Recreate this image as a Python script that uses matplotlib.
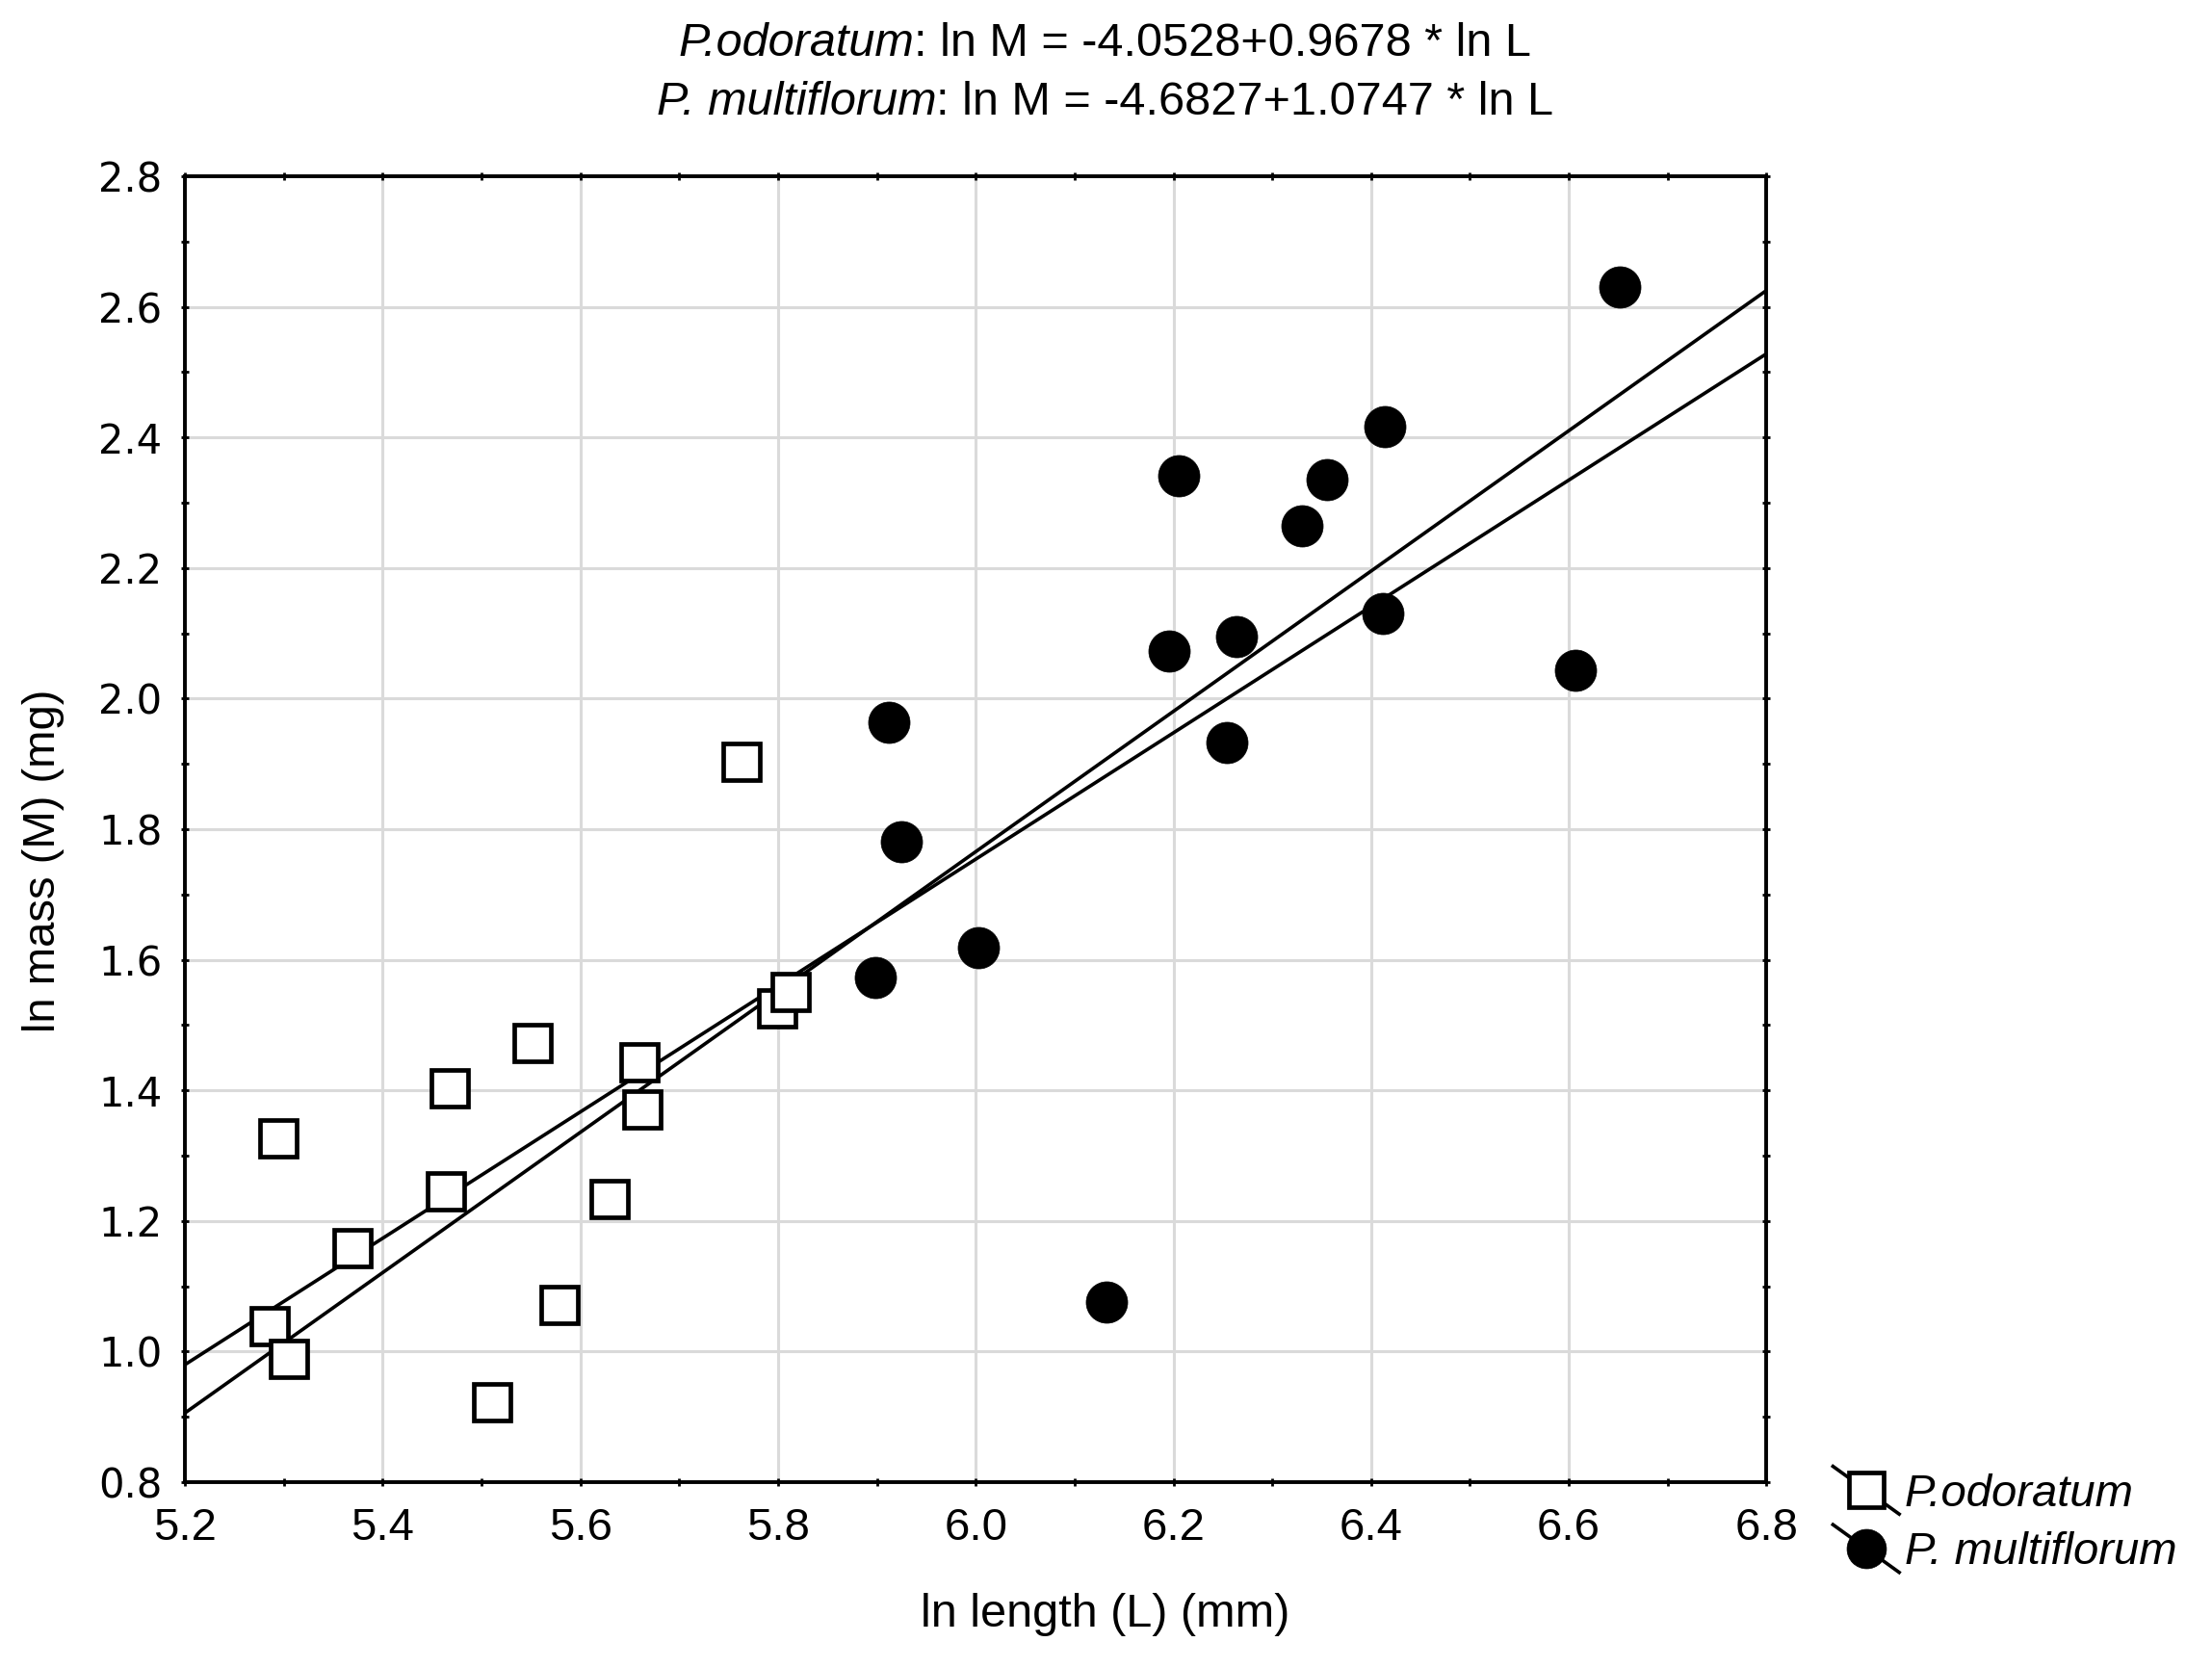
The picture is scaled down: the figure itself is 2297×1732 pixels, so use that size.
import numpy as np
import matplotlib
matplotlib.use("Agg")
import matplotlib.pyplot as plt
from matplotlib.lines import Line2D
from matplotlib.legend_handler import HandlerBase

# --- data ---
odor_x = [5.763, 5.552, 5.468, 5.294, 5.660, 5.663, 5.799, 5.813,
          5.464, 5.630, 5.369, 5.579, 5.286, 5.305, 5.511]
odor_y = [1.903, 1.473, 1.403, 1.327, 1.443, 1.370, 1.526, 1.550,
          1.246, 1.233, 1.159, 1.071, 1.039, 0.988, 0.922]

multi_x = [6.652, 6.414, 6.205, 6.355, 6.330, 6.412, 6.264, 6.196,
           6.607, 6.254, 5.912, 5.925, 6.003, 5.898, 6.132]
multi_y = [2.630, 2.417, 2.342, 2.335, 2.264, 2.131, 2.095, 2.073,
           2.043, 1.933, 1.963, 1.781, 1.618, 1.573, 1.076]

# regression coefficients (intercept, slope)
odor_fit = (-4.0528, 0.9678)
multi_fit = (-4.6827, 1.0747)

species = ["P.odoratum", "P. multiflorum"]
equations = [": ln M = -4.0528+0.9678 * ln L", ": ln M = -4.6827+1.0747 * ln L"]

x_range = (5.2, 6.8)
y_range = (0.8, 2.8)
x_ticks = np.arange(5.2, 6.81, 0.2)
y_ticks = np.arange(0.8, 2.81, 0.2)

SANS = ['Liberation Sans', 'DejaVu Sans']

fig = plt.figure(figsize=(22.97, 17.32), dpi=100)
ax = fig.add_axes([0.0836, 0.1115, 0.7150, 0.7828])

ax.grid(True, color='#dadada', lw=2.2, zorder=0)
ax.set_axisbelow(True)

xx = np.array(x_range)
ax.plot(xx, odor_fit[0] + odor_fit[1] * xx, color='black', lw=2.6, zorder=2)
ax.plot(xx, multi_fit[0] + multi_fit[1] * xx, color='black', lw=2.6, zorder=2)

ax.plot(odor_x, odor_y, ls='none', marker='s', ms=27, mfc='white',
        mec='black', mew=3.4, zorder=3)
ax.plot(multi_x, multi_y, ls='none', marker='o', ms=31, mfc='black',
        mec='black', mew=0.5, zorder=3)

ax.set_xlim(*x_range)
ax.set_ylim(*y_range)
ax.set_xticks(x_ticks)
ax.set_yticks(y_ticks)
ax.set_xticks(np.arange(5.3, 6.8, 0.2), minor=True)
ax.set_yticks(np.arange(0.9, 2.8, 0.2), minor=True)
ax.set_xticklabels([f"{v:.1f}" for v in x_ticks], family=SANS, fontsize=34)
ax.set_yticklabels([f"{v:.1f}" for v in y_ticks], family='DejaVu Sans', fontsize=30)
ax.tick_params(which='both', direction='inout', length=6, width=2,
               top=True, right=True)
ax.tick_params(axis='x', pad=16)
ax.tick_params(axis='y', pad=14)
for s in ax.spines.values():
    s.set_linewidth(2.8)

# equations: italic species name + plain text, whole line centred on figure
renderer = fig.canvas.get_renderer()
for sp, eq, ty in zip(species, equations, [0.9735, 0.9385]):
    t_it = fig.text(0, ty, sp, ha='left', va='center', fontsize=35,
                    family=SANS, style='italic')
    t_rm = fig.text(0, ty, eq, ha='left', va='center', fontsize=35, family=SANS)
    w_it = t_it.get_window_extent(renderer).width / fig.bbox.width
    w_rm = t_rm.get_window_extent(renderer).width / fig.bbox.width
    x0 = 0.4995 - (w_it + w_rm) / 2
    t_it.set_x(x0)
    t_rm.set_x(x0 + w_it)

fig.text(0.4995, 0.0320, "ln length (L) (mm)", ha='center', va='center',
         fontsize=35, family=SANS)
fig.text(0.0195, 0.484, "ln mass (M) (mg)", ha='center', va='center',
         rotation=90, fontsize=34, family=SANS)


class DiagHandler(HandlerBase):
    def create_artists(self, legend, orig_handle, xdescent, ydescent,
                       width, height, fontsize, trans):
        cx, cy = width / 2 - xdescent, height / 2 - ydescent
        dx, dy = width * 0.52, height * 0.75
        ln = Line2D([cx - dx, cx + dx], [cy + dy, cy - dy], color='black',
                    lw=2.6, transform=trans)
        mk = Line2D([cx], [cy], ls='none', marker=orig_handle.get_marker(),
                    ms=orig_handle.get_markersize() * 0.95,
                    mfc=orig_handle.get_markerfacecolor(), mec='black',
                    mew=orig_handle.get_markeredgewidth(), transform=trans)
        return [ln, mk]


h1 = Line2D([], [], ls='none', marker='s', ms=27, mfc='white', mec='black', mew=3.4)
h2 = Line2D([], [], ls='none', marker='o', ms=31, mfc='black', mec='black', mew=0.5)
leg = fig.legend([h1, h2], species,
                 handler_map={Line2D: DiagHandler()},
                 loc='center left', bbox_to_anchor=(0.821, 0.0865),
                 frameon=False, handlelength=1.4, handletextpad=0.15,
                 labelspacing=0.35, borderaxespad=0,
                 prop={'family': SANS, 'style': 'italic', 'size': 34})

fig.savefig("out.png", dpi=100, facecolor='white')
